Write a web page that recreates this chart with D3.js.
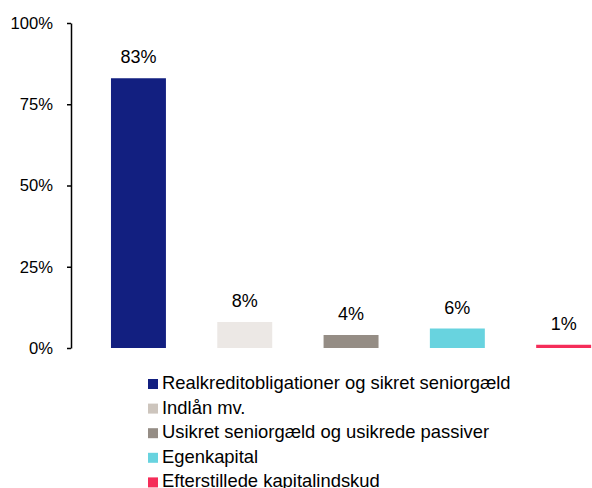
<!DOCTYPE html>
<html>
<head>
	<meta charset="utf-8">
	<title>Passiver</title>
	<script src="https://cdn.jsdelivr.net/npm/d3@7"></script>
	<style>
		body {
			margin: 0;
			font-family: Arial, "Liberation Sans", Helvetica, sans-serif;
			background: #fff;
		}
	</style>
</head>
<body>
	<div id="chart"></div>
	<script>

		// data
		const categories = [
			"Realkreditobligationer og sikret seniorgæld",
			"Indlån mv.",
			"Usikret seniorgæld og usikrede passiver",
			"Egenkapital",
			"Efterstillede kapitalindskud"
		];
		const shares = [0.83, 0.08, 0.04, 0.06, 0.01];
		const yTicks = [0, 0.25, 0.5, 0.75, 1];

		// styling
		const barColors    = ["#121f80", "#ece8e5", "#958d85", "#68d3df", "#f52d59"];
		const legendColors = ["#121f80", "#cdc5bd", "#958d85", "#68d3df", "#f52d59"];

		const width  = 592;
		const height = 488;
		const axisX  = 71;
		const yTop   = 23;
		const yBottom = 348;

		const svg = d3.select("#chart")
			.append("svg")
			.attr("width", width)
			.attr("height", height)
			.attr("viewBox", [0, 0, width, height]);

		const x = d3.scaleBand()
			.domain(d3.range(categories.length))
			.range([85.3, 85.3 + 5 * 106.3])
			.paddingInner(0.483)
			.paddingOuter(0.2415);

		const y = d3.scaleLinear()
			.domain([0, 1])
			.range([yBottom, yTop]);

		// y axis
		svg.append("g")
			.attr("transform", `translate(${axisX},0)`)
			.call(d3.axisLeft(y)
				.tickValues(yTicks)
				.tickFormat(d3.format(".0%"))
				.tickSizeInner(4)
				.tickSizeOuter(0)
				.tickPadding(14))
			.call(g => g.select(".domain").attr("stroke-width", 1.5))
			.call(g => g.selectAll(".tick line").attr("stroke-width", 1.5))
			.call(g => g.selectAll("text")
				.attr("font-size", 16.6)
				.attr("font-family", "Arial, 'Liberation Sans', sans-serif")
				.attr("fill", "#000"));

		// bars
		svg.append("g")
			.selectAll("rect")
			.data(shares)
			.join("rect")
			.attr("x", (d, i) => x(i))
			.attr("y", d => y(d))
			.attr("width", x.bandwidth())
			.attr("height", d => y(0) - y(d))
			.attr("fill", (d, i) => barColors[i]);

		// value labels
		svg.append("g")
			.attr("font-size", 18)
			.attr("text-anchor", "middle")
			.selectAll("text")
			.data(shares)
			.join("text")
			.attr("x", (d, i) => x(i) + x.bandwidth() / 2)
			.attr("y", d => y(d) - 15)
			.text(d => d3.format(".0%")(d));

		// legend
		const legend = svg.append("g")
			.attr("transform", "translate(148,379)")
			.selectAll("g")
			.data(categories)
			.join("g")
			.attr("transform", (d, i) => `translate(0,${i * 24.6})`);

		legend.append("rect")
			.attr("width", 10)
			.attr("height", 10)
			.attr("fill", (d, i) => legendColors[i]);

		legend.append("text")
			.attr("x", 14)
			.attr("y", 10)
			.attr("font-size", 18.4)
			.text(d => d);

	</script>
</body>
</html>
